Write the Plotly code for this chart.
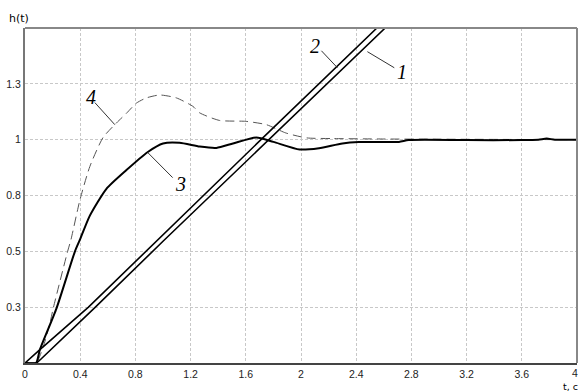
import plotly.graph_objects as go

# Curve 1 (ramp with delay)
t1 = [0, 0.084, 0.12, 0.51, 1.0, 1.77, 2.61, 2.75]
h1 = [0, 0, 0.02, 0.25, 0.545, 1.0, 1.5, 1.59]
# Curve 2 (ramp)
t2 = [0, 0.108, 0.46, 1.0, 1.71, 2.55, 2.7]
h2 = [0, 0.06, 0.25, 0.575, 1.0, 1.5, 1.59]
# Curve 3 (solid step response)
t3 = [0, 0.08, 0.108, 0.229, 0.362, 0.398, 0.47, 0.59, 0.735, 0.89, 1.0, 1.12, 1.266,
      1.387, 1.507, 1.676, 1.8, 1.99, 2.13, 2.3, 2.42, 2.71, 2.78, 3.2, 3.6, 3.72, 3.78,
      3.84, 4.0]
h3 = [0, 0, 0.06, 0.246, 0.5, 0.552, 0.66, 0.78, 0.864, 0.945, 0.983, 0.986, 0.969,
      0.963, 0.983, 1.01, 0.99, 0.956, 0.962, 0.983, 0.989, 0.99, 0.998, 0.998, 0.998,
      1.0, 1.005, 1.0, 1.0]
# Curve 4 (dashed step response)
t4 = [0, 0.08, 0.133, 0.181, 0.205, 0.309, 0.333, 0.398, 0.47, 0.566, 0.663, 0.735,
      0.808, 0.88, 0.976, 1.097, 1.217, 1.266, 1.41, 1.6, 1.75, 1.89, 2.04, 2.23, 2.6,
      3.0, 3.5, 4.0]
h4 = [0, 0, 0.074, 0.179, 0.246, 0.5, 0.552, 0.73, 0.88, 1.01, 1.075, 1.118,
      1.164, 1.187, 1.2, 1.187, 1.149, 1.12, 1.086, 1.082, 1.067, 1.03, 1.008, 1.005,
      1.003, 1.002, 1.001, 1.0]

x_ticks = [0, 0.4, 0.8, 1.2, 1.6, 2, 2.4, 2.8, 3.2, 3.6, 4]
x_ticktext = ["0", "0.4", "0.8", "1.2", "1.6", "2", "2.4", "2.8", "3.2", "3.6", ""]
x_last_label = "4"
y_ticks = [0.25, 0.5, 0.75, 1.0, 1.25]
y_ticktext = ["0.3", "0.5", "0.8", "1", "1.3"]

TICKFONT = dict(family="Liberation Sans", size=10.5, color="#222")

fig = go.Figure()
fig.add_trace(go.Scatter(x=t4, y=h4, mode="lines", line=dict(color="#555", width=1, dash="9px,5px",
                         shape="spline", smoothing=0.6)))
fig.add_trace(go.Scatter(x=t1, y=h1, mode="lines", line=dict(color="black", width=1.6)))
fig.add_trace(go.Scatter(x=t2, y=h2, mode="lines", line=dict(color="black", width=1.6)))
fig.add_trace(go.Scatter(x=t3, y=h3, mode="lines", line=dict(color="black", width=2,
                         shape="spline", smoothing=0.6)))

labels = [("1", 2.735, 1.305, 2.481, 1.394, 2.676, 1.322),
          ("2", 2.10, 1.42, 2.148, 1.398, 2.264, 1.322),
          ("3", 1.13, 0.80, 0.89, 0.942, 1.07, 0.83),
          ("4", 0.475, 1.19, 0.506, 1.166, 0.651, 1.067)]
for txt, lx, ly, ax0, ay0, ax1, ay1 in labels:
    fig.add_annotation(x=lx, y=ly, text="<i>" + txt + "</i>", showarrow=False,
                       font=dict(family="Liberation Serif", size=20, color="black"),
                       xanchor="center", yanchor="middle")
    fig.add_shape(type="line", x0=ax0, y0=ay0, x1=ax1, y1=ay1, xref="x", yref="y",
                  line=dict(color="#333", width=1))

fig.add_annotation(xref="paper", yref="paper", x=0, xshift=-18, y=1.0, yshift=10, text="h(t)",
                   showarrow=False, xanchor="left", yanchor="middle",
                   font=dict(family="DejaVu Sans", size=11, color="black"))
fig.add_annotation(xref="paper", yref="paper", x=1, xshift=2, y=0, yshift=-23, text="t, c",
                   showarrow=False, xanchor="right", yanchor="middle", borderpad=0,
                   font=dict(family="DejaVu Sans", size=9.5, color="black"))
fig.add_annotation(xref="paper", yref="paper", x=1, xshift=2, y=0, yshift=-3, text=x_last_label,
                   showarrow=False, xanchor="right", yanchor="top", borderpad=0, font=TICKFONT)

fig.update_xaxes(range=[0, 4], tickvals=x_ticks, ticktext=x_ticktext, showgrid=True,
                 gridcolor="#c8c8c8", griddash="3px,2px", gridwidth=1, zeroline=False,
                 showline=True, linecolor="#444", linewidth=2, ticks="", automargin=False,
                 tickfont=TICKFONT)
fig.update_yaxes(range=[0, 1.5], tickvals=y_ticks, ticktext=y_ticktext, showgrid=True,
                 gridcolor="#c8c8c8", griddash="3px,2px", gridwidth=1, zeroline=False,
                 showline=True, linecolor="#777", linewidth=2, ticks="", automargin=False,
                 tickfont=TICKFONT)
# top and right frame
fig.add_shape(type="line", xref="paper", yref="paper", x0=0, x1=1, y0=1, y1=1,
              line=dict(color="#888", width=2))
fig.add_shape(type="line", xref="paper", yref="paper", x0=1, x1=1, y0=0, y1=1,
              line=dict(color="#888", width=2))

fig.update_layout(width=579, height=392, margin=dict(l=25, r=2, t=28, b=29),
                  plot_bgcolor="white", paper_bgcolor="white", showlegend=False)
fig.write_html("out.html", config={"displayModeBar": False},
               post_script="document.body.style.margin='0';document.body.style.overflow='hidden';")
